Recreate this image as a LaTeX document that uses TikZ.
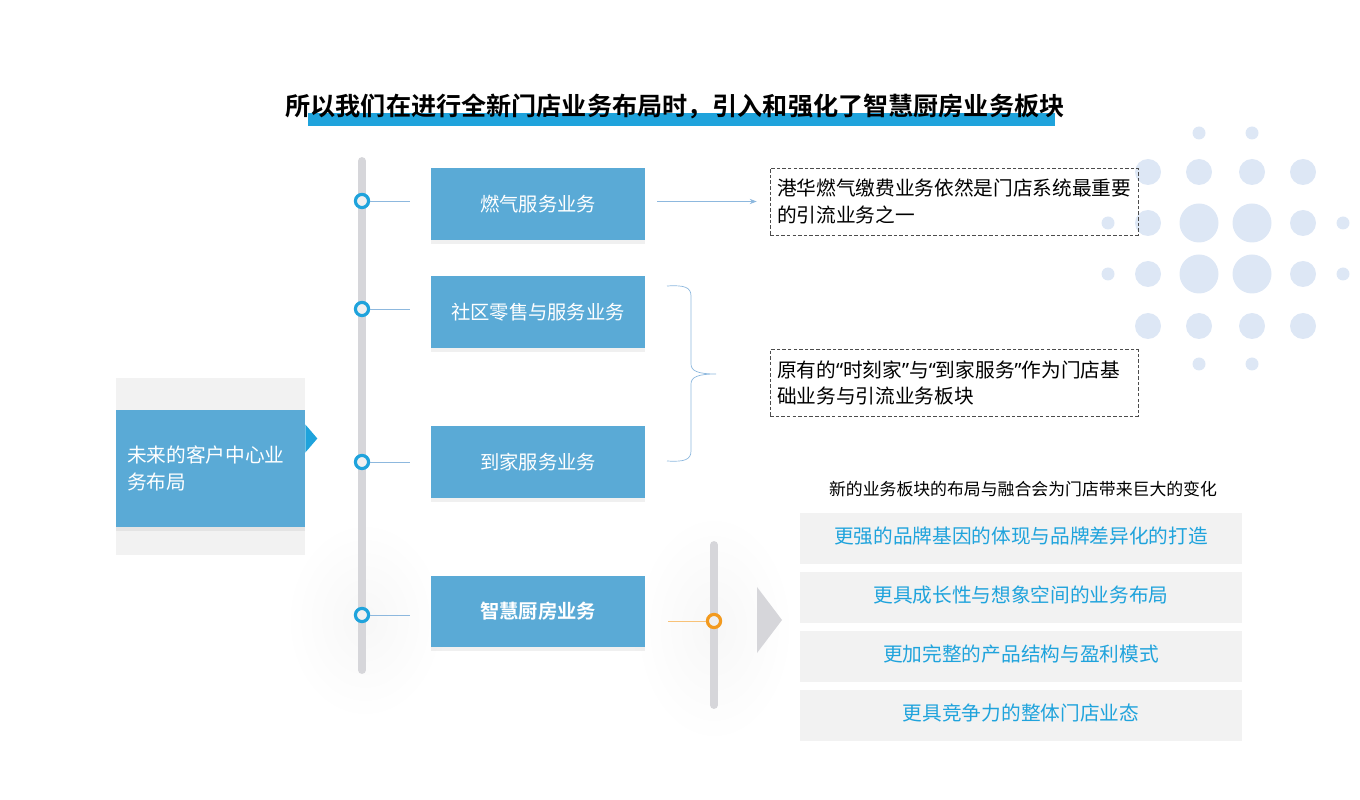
\documentclass[tikz,border=0pt]{standalone}
\usepackage{fontspec}
\setmainfont{Noto Sans CJK SC}[BoldFont={Noto Sans CJK SC Bold}]
\newfontfamily\quotefont{Noto Sans}
\newcommand{\qopen}{{\quotefont “}}
\newcommand{\qclose}{{\quotefont ”}}
\usetikzlibrary{shadows,arrows.meta}
\definecolor{boxblue}{HTML}{5AAAD6}
\definecolor{ringblue}{HTML}{1FA3DC}
\definecolor{railgray}{HTML}{D6D6DA}
\definecolor{panelgray}{HTML}{F2F2F2}
\definecolor{dotblue}{HTML}{DDE7F5}
\definecolor{kitorange}{HTML}{F39A1E}
\definecolor{linkblue}{HTML}{8DB8DE}
\begin{document}
\begin{tikzpicture}[x=0.02cm, y=-0.02cm,
    biz/.style={fill=boxblue, text=white, minimum width=4.28cm, minimum height=1.44cm,
      font=\fontsize{11}{13}\selectfont,
      drop shadow={opacity=0.12, shadow xshift=0pt, shadow yshift=-2pt}},
    ring/.style={circle, draw=ringblue, line width=1.8pt, fill=gray!12,
      minimum size=7.5pt, inner sep=0pt},
    note/.style={draw=black!70, dash pattern=on 2pt off 1.2pt, thin, align=left,
      minimum height=1.34cm, inner xsep=0.14cm, text width=7.08cm,
      font=\fontsize{11.2}{15.3}\selectfont},
    gain/.style={fill=panelgray, text=ringblue, minimum width=8.84cm, minimum height=0.94cm,
      font=\fontsize{11.2}{13}\selectfont,
      drop shadow={opacity=0.1, shadow xshift=0pt, shadow yshift=-2pt}},
    glow/.style={inner color=black!3, outer color=white},
    tick/.style={linkblue, thin}]
  \useasboundingbox (0,0) rectangle (1360,800);
  % soft glows behind the rails
  \shade[glow] (365,620) ellipse[x radius=80, y radius=100];
  \shade[glow] (714,628) ellipse[x radius=80, y radius=115];
  % dot pattern
  \foreach \x/\y/\r in {1199/133/6.5, 1252/133/6.5,
      1148/172/13, 1199/172/13, 1252/172/13, 1303/172/13,
      1108/223/6.5, 1148/223/13, 1199/223/19.5, 1252/223/19.5, 1303/223/13, 1343/223/6.5,
      1108/274/6.5, 1148/274/13, 1199/274/19.5, 1252/274/19.5, 1303/274/13, 1343/274/6.5,
      1148/326/13, 1199/326/13, 1252/326/13, 1303/326/13,
      1199/364/6.5, 1252/364/6.5}
    \fill[dotblue] (\x,\y) circle[radius=\r];
  % title
  \fill[ringblue] (308,113) rectangle (1055,126);
  \node[font=\bfseries\fontsize{14.3}{16}\selectfont] (title) at (675,106)
    {所以我们在进行全新门店业务布局时，引入和强化了智慧厨房业务板块};
  % hub
  \fill[panelgray] (116,378) rectangle (305,555);
  \node[fill=boxblue, text=white, minimum width=3.78cm, minimum height=2.34cm,
    align=left, text width=3.34cm, inner xsep=0.22cm, font=\fontsize{11.2}{15.8}\selectfont,
    drop shadow={opacity=0.12, shadow xshift=0pt, shadow yshift=-2pt}]
    (hub) at (210.5,468.5) {未来的客户中心业\\务布局};
  \fill[ringblue] ([yshift=0.32cm]hub.east) -- ++(12,-14) -- ++(-12,-14) -- cycle;
  % main rail
  \draw[railgray, line width=4.5pt, line cap=round] (362,161) -- (362,670);
  \foreach \i/\y in {1/201, 2/309, 3/462, 4/615} {
    \node[ring] (r\i) at (362,\y) {};
    \coordinate (t\i) at (410,\y);
    \draw[tick] (r\i) -- (t\i);
  }
  \node[biz] (b1) at (538,204) {燃气服务业务};
  \node[biz] (b2) at (538,312) {社区零售与服务业务};
  \node[biz] (b3) at (538,462) {到家服务业务};
  \node[biz, font=\bfseries\fontsize{11}{13}\selectfont] (b4) at (538,611.5) {智慧厨房业务};
  % notes
  \node[note] (n1) at (954,201.5) {港华燃气缴费业务依然是门店系统最重要\\的引流业务之一};
  \node[note] (n2) at (954,383) {原有的\qopen 时刻家\qclose 与\qopen 到家服务\qclose 作为门店基\\础业务与引流业务板块};
  \draw[linkblue, -{Stealth[length=4pt, width=3pt]}]
    ([xshift=0.24cm]b1.east |- n1.west) -- ([xshift=-0.26cm]n1.west);
  % brace
  \coordinate (bt) at (667,286);
  \coordinate (bm) at (716,374);
  \coordinate (bb) at (667,461);
  \draw[linkblue] (bt) .. controls (684,285) and (691,287) .. (691,296) -- (691,364)
    .. controls (691,371) and (698,374) .. (bm)
    .. controls (698,374) and (691,377) .. (691,384) -- (691,451)
    .. controls (691,460) and (684,462) .. (bb);
  % kitchen rail
  \draw[railgray, line width=4.5pt, line cap=round] (714,545) -- (714,705);
  \node[ring, draw=kitorange, fill=gray!12] (o1) at (714,621) {};
  \coordinate (ot) at (668,621);
  \draw[kitorange!60, thin] (ot) -- (o1);
  \fill[railgray] (757,587) -- (782,620) -- (757,653) -- cycle;
  % gains
  \node[font=\fontsize{9.6}{11}\selectfont] (cap) at (1023,489) {新的业务板块的布局与融合会为门店带来巨大的变化};
  \node[gain] (g1) at (1021,536.5) {更强的品牌基因的体现与品牌差异化的打造};
  \node[gain] (g2) at (1021,595.5) {更具成长性与想象空间的业务布局};
  \node[gain] (g3) at (1021,654.5) {更加完整的产品结构与盈利模式};
  \node[gain] (g4) at (1021,713.5) {更具竞争力的整体门店业态};
\end{tikzpicture}
\end{document}
